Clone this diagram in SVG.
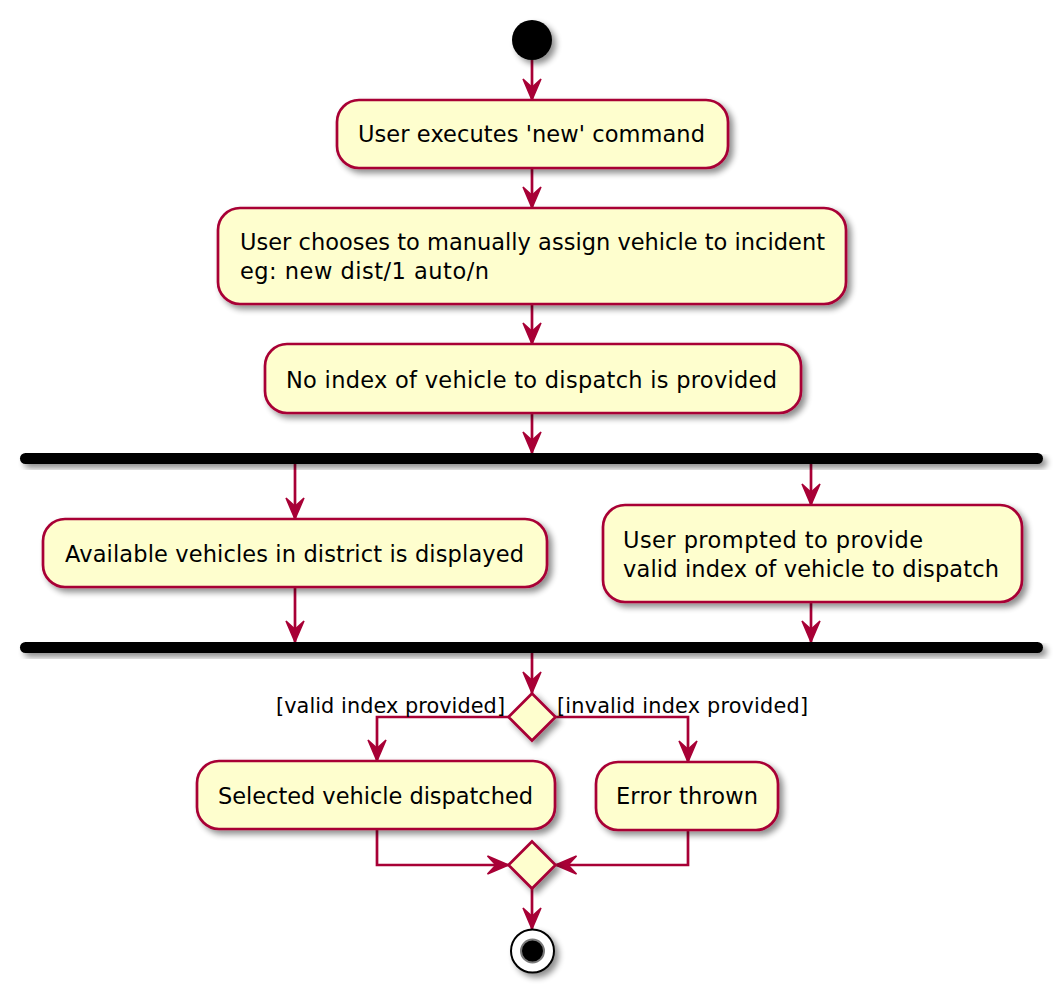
<svg xmlns="http://www.w3.org/2000/svg" width="1064" height="993" viewBox="0 0 1064 993">
<style>
.act{fill:#FEFECE;stroke:#A80036;stroke-width:2.7;filter:url(#sh)}
.bar{fill:#000000;filter:url(#sh)}
.t{font-family:"DejaVu Sans","Liberation Sans",sans-serif;font-size:22.5px;fill:#000000}
.lbl{font-family:"DejaVu Sans","Liberation Sans",sans-serif;font-size:20.8px;fill:#000000}
.c{fill:none;stroke:#A80036;stroke-width:2.7;marker-end:url(#ah)}
</style>
<defs>
<filter id="sh" x="-20%" y="-20%" width="150%" height="170%">
<feGaussianBlur in="SourceAlpha" stdDeviation="3"/>
<feOffset dx="4" dy="4" result="b"/>
<feComponentTransfer><feFuncA type="linear" slope="0.45"/></feComponentTransfer>
<feMerge><feMergeNode/><feMergeNode in="SourceGraphic"/></feMerge>
</filter>
<marker id="ah" markerUnits="userSpaceOnUse" viewBox="-24 -12 26 24" markerWidth="26" markerHeight="24" refX="0" refY="0" orient="auto">
<path d="M0,0 L-21,-9 L-12.6,0 L-21,9 Z" fill="#A80036" stroke="#A80036" stroke-width="1.5" stroke-linejoin="miter"/>
</marker>
</defs>

<g id="connectors">
<path class="c" d="M532,60 V100"/>
<path class="c" d="M532,168 V208"/>
<path class="c" d="M532,304 V344"/>
<path class="c" d="M532,413 V453"/>
<path class="c" d="M295,464 V519"/>
<path class="c" d="M811,464 V505"/>
<path class="c" d="M295,587 V642"/>
<path class="c" d="M811,602 V642"/>
<path class="c" d="M532,653 V693"/>
<path class="c" d="M508.5,717 H377 V761"/>
<path class="c" d="M555.5,717 H688 V762"/>
<path class="c" d="M377,829 V865 H508.5"/>
<path class="c" d="M688,830 V865 H555.5"/>
<path class="c" d="M532,888 V929"/>
</g>

<g id="start"><circle cx="532" cy="40" r="20" fill="#000000" filter="url(#sh)"/></g>

<g id="n1">
<rect class="act" x="337" y="100" width="391" height="68" rx="22" ry="22"/>
<text class="t" x="358" y="142" textLength="347" lengthAdjust="spacing">User executes 'new' command</text>
</g>

<g id="n2">
<rect class="act" x="218" y="208" width="628" height="96" rx="22" ry="22"/>
<text class="t" x="240" y="250" textLength="585" lengthAdjust="spacing">User chooses to manually assign vehicle to incident</text>
<text class="t" x="240" y="279" textLength="249" lengthAdjust="spacing">eg: new dist/1 auto/n</text>
</g>

<g id="n3">
<rect class="act" x="265" y="344" width="536" height="69" rx="22" ry="22"/>
<text class="t" x="286" y="388" textLength="491" lengthAdjust="spacing">No index of vehicle to dispatch is provided</text>
</g>

<g id="fork"><rect class="bar" x="20" y="453" width="1023" height="11" rx="5.5" ry="5.5"/></g>

<g id="n4">
<rect class="act" x="43" y="519" width="504" height="68" rx="22" ry="22"/>
<text class="t" x="65" y="562" textLength="459" lengthAdjust="spacing">Available vehicles in district is displayed</text>
</g>

<g id="n5">
<rect class="act" x="603" y="505" width="419" height="97" rx="22" ry="22"/>
<text class="t" x="623" y="548" textLength="300" lengthAdjust="spacing">User prompted to provide</text>
<text class="t" x="623" y="577" textLength="376" lengthAdjust="spacing">valid index of vehicle to dispatch</text>
</g>

<g id="join"><rect class="bar" x="20" y="642" width="1023" height="11" rx="5.5" ry="5.5"/></g>

<g id="decision">
<polygon class="act" points="532,693.5 555.5,717 532,740.5 508.5,717"/>
<text class="lbl" x="276" y="713" textLength="229" lengthAdjust="spacing">[valid index provided]</text>
<text class="lbl" x="557" y="713" textLength="251" lengthAdjust="spacing">[invalid index provided]</text>
</g>

<g id="n6">
<rect class="act" x="197" y="761" width="358" height="68" rx="22" ry="22"/>
<text class="t" x="218" y="804" textLength="315" lengthAdjust="spacing">Selected vehicle dispatched</text>
</g>

<g id="n7">
<rect class="act" x="596" y="762" width="182" height="68" rx="22" ry="22"/>
<text class="t" x="616" y="804" textLength="142" lengthAdjust="spacing">Error thrown</text>
</g>

<g id="merge">
<polygon class="act" points="532,841.5 555.5,865 532,888.5 508.5,865"/>
</g>

<g id="end">
<circle cx="532.5" cy="951" r="21.5" fill="#FFFFFF" stroke="#000000" stroke-width="2" filter="url(#sh)"/>
<circle cx="532.5" cy="951" r="11.5" fill="#000000" stroke="#7a7a7a" stroke-width="2"/>
</g>
</svg>
